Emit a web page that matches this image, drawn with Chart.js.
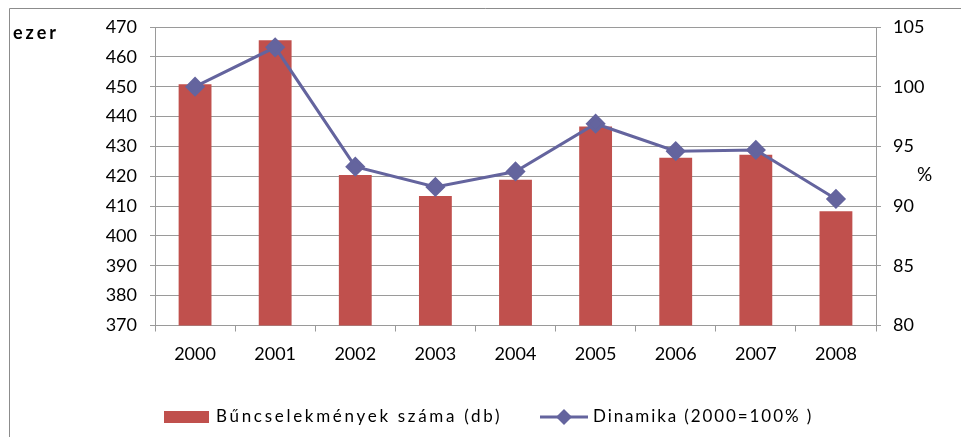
<!DOCTYPE html>
<html>
<head>
<meta charset="utf-8">
<script src="https://cdn.jsdelivr.net/npm/chart.js@4.4.1/dist/chart.umd.min.js"></script>
<style>
html, body { margin: 0; padding: 0; background: #fff; }
#wrap { width: 961px; height: 437px; }
</style>
</head>
<body>
<div id="wrap"><canvas id="chart" width="961" height="437"></canvas></div>
<script>
// data
var years = ["2000", "2001", "2002", "2003", "2004", "2005", "2006", "2007", "2008"];
var crimes = [450.8, 465.6, 420.4, 413.4, 418.8, 436.7, 426.2, 427.2, 408.3];   // ezer
var dynamics = [100, 103.3, 93.3, 91.6, 92.9, 96.9, 94.6, 94.7, 90.6];           // %
var crimesLabel = "Bűncselekmények száma (db)";
var dynamicsLabel = "Dinamika (2000=100% )";

var barColor = "#C0504D";
var lineColor = "#64649E";
var gridColor = "#9a9a9a";
var fontFamily = "Lato, 'Open Sans', sans-serif";

// frame, "ezer", "%" and the legend
const extras = {
    id: "extras",
    beforeDraw(chart) {
        var c = chart.ctx;
        c.save();
        c.fillStyle = "#fff";
        c.fillRect(0, 0, chart.width, chart.height);
        c.strokeStyle = "#8c8c8c";
        c.lineWidth = 1;
        c.beginPath();
        c.moveTo(9.5, chart.height);
        c.lineTo(9.5, 8.5);
        c.lineTo(chart.width, 8.5);
        c.stroke();
        c.restore();
    },
    afterDraw(chart) {
        var c = chart.ctx;
        c.save();
        c.fillStyle = "#000";
        c.textBaseline = "middle";

        c.font = "bold 18px " + fontFamily;
        c.letterSpacing = "3px";
        c.fillText("ezer", 13, 33);

        c.font = "19px " + fontFamily;
        c.letterSpacing = "0px";
        c.fillText("%", 917, 175);

        // legend
        var ly = 417;
        c.fillStyle = barColor;
        c.fillRect(164, ly - 6, 45, 12);
        c.fillStyle = "#000";
        c.font = "17px " + fontFamily;
        c.letterSpacing = "2.7px";
        c.fillText(crimesLabel, 216, ly);

        c.strokeStyle = lineColor;
        c.lineWidth = 3;
        c.beginPath();
        c.moveTo(540, ly);
        c.lineTo(588, ly);
        c.stroke();
        c.fillStyle = lineColor;
        c.beginPath();
        c.moveTo(564, ly - 8);
        c.lineTo(572, ly);
        c.lineTo(564, ly + 8);
        c.lineTo(556, ly);
        c.closePath();
        c.fill();
        c.fillStyle = "#000";
        c.letterSpacing = "1.9px";
        c.fillText(dynamicsLabel, 593, ly);
        c.restore();
    }
};

new Chart(document.getElementById("chart"), {
    data: {
        labels: years,
        datasets: [
            {
                type: "line",
                label: dynamicsLabel,
                data: dynamics,
                yAxisID: "y1",
                borderColor: lineColor,
                backgroundColor: lineColor,
                borderWidth: 3,
                pointStyle: "rectRot",
                pointRadius: 8,
                pointHoverRadius: 8,
                tension: 0,
                order: 0
            },
            {
                type: "bar",
                label: crimesLabel,
                data: crimes,
                yAxisID: "y",
                backgroundColor: barColor,
                categoryPercentage: 1,
                barPercentage: 0.41,
                order: 1
            }
        ]
    },
    options: {
        responsive: false,
        animation: false,
        layout: { padding: { top: 27, left: 0, right: 0, bottom: 0 } },
        plugins: { legend: { display: false }, tooltip: { enabled: false } },
        scales: {
            x: {
                grid: { drawOnChartArea: false, drawTicks: true, tickLength: 6, color: gridColor, offset: true },
                border: { color: gridColor },
                ticks: { color: "#000", font: { family: fontFamily, size: 18 }, padding: 12 },
                afterFit(scale) { scale.height = 111.5; }
            },
            y: {
                position: "left",
                min: 370,
                max: 470,
                grid: { color: gridColor, tickLength: 5 },
                border: { color: gridColor },
                ticks: { stepSize: 10, color: "#000", font: { family: fontFamily, size: 18 }, padding: 13 },
                afterFit(scale) { scale.width = 155; }
            },
            y1: {
                position: "right",
                min: 80,
                max: 105,
                grid: { drawOnChartArea: false, color: gridColor, tickLength: 5 },
                border: { color: gridColor },
                ticks: { stepSize: 5, color: "#000", font: { family: fontFamily, size: 18 }, padding: 12 },
                afterFit(scale) { scale.width = 85; }
            }
        }
    },
    plugins: [extras]
});
</script>
</body>
</html>
